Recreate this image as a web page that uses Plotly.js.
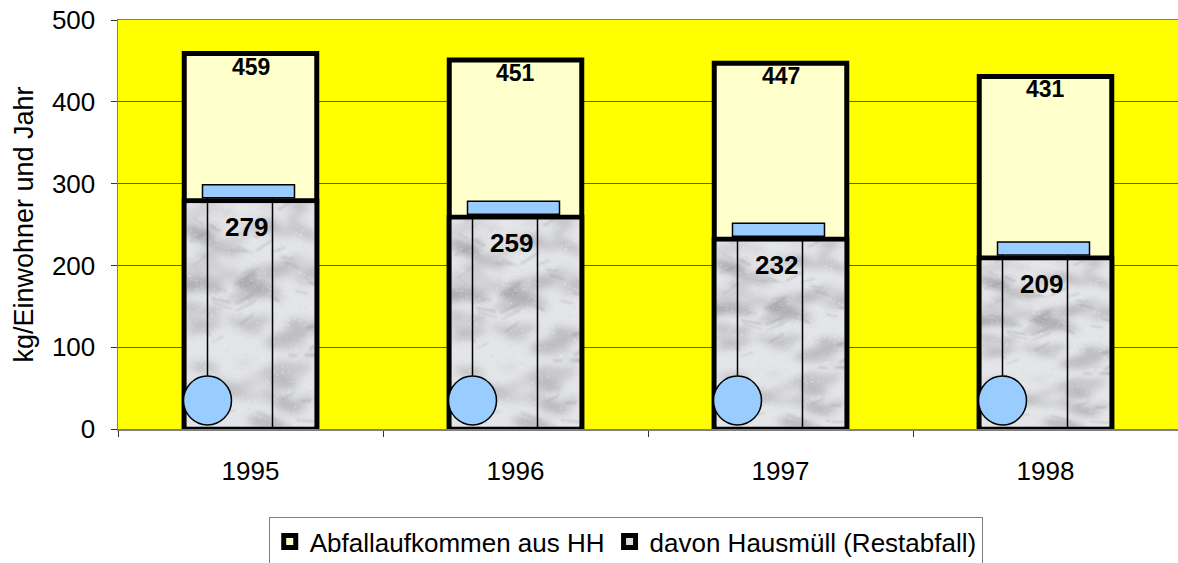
<!DOCTYPE html>
<html>
<head>
<meta charset="utf-8">
<script src="https://cdn.plot.ly/plotly-3.0.1.min.js"></script>
<style>html,body{margin:0;padding:0;background:#fff;}#chart{width:1178px;height:563px;}</style>
</head>
<body>
<div id="chart"></div>
<script>
// ---- data ----
const years = ['1995', '1996', '1997', '1998'];
const abfallaufkommen = [459, 451, 447, 431];
const hausmuell = [279, 259, 232, 209];
const seriesNames = ['Abfallaufkommen aus HH', 'davon Hausmüll (Restabfall)'];
const yTicks = [0, 100, 200, 300, 400, 500];

// ---- marble-like texture (deterministic) ----
function makeTexture() {
  const c = document.createElement('canvas');
  c.width = 140; c.height = 240;
  const g = c.getContext('2d');
  g.fillStyle = '#e4e5e8';
  g.fillRect(0, 0, c.width, c.height);
  const h = (n) => { const s = Math.sin(n * 127.1 + 311.7) * 43758.5453; return s - Math.floor(s); };
  g.filter = 'blur(4px)';
  for (let k = 0; k < 70; k++) {
    const x = h(k) * c.width, y = h(k + 100) * c.height;
    const r = 4 + h(k + 200) * 10;
    const shade = 145 + Math.floor(h(k + 400) * 60);
    g.fillStyle = 'rgba(' + shade + ',' + shade + ',' + (shade + 4) + ',0.5)';
    g.beginPath();
    g.ellipse(x, y, r * 1.8, r * 0.6, -0.5 + h(k + 300) * 1.0, 0, Math.PI * 2);
    g.fill();
  }
  g.filter = 'blur(1px)';
  for (let k = 0; k < 40; k++) {
    const x = h(k + 700) * c.width, y = h(k + 800) * c.height;
    const len = 8 + h(k + 900) * 20, ang = -0.7 + h(k + 950) * 1.4;
    g.strokeStyle = 'rgba(140,140,145,0.35)';
    g.lineWidth = 1 + h(k + 990) * 2;
    g.beginPath();
    g.moveTo(x, y);
    g.lineTo(x + len * Math.cos(ang), y + len * Math.sin(ang));
    g.stroke();
  }
  g.filter = 'none';
  for (let k = 0; k < 900; k++) {
    const x = h(k + 1000) * c.width, y = h(k + 3000) * c.height;
    const s = 205 + Math.floor(h(k + 5000) * 50);
    g.fillStyle = 'rgba(' + s + ',' + s + ',' + s + ',0.5)';
    g.fillRect(x, y, 1.5, 1.5);
  }
  return c.toDataURL('image/png');
}

const tex = makeTexture();
const plotW = 1060, plotH = 409, yMax = 500;
const pxX = 1 / (plotW / years.length);   // category units per px
const pxY = yMax / plotH;                 // data units per px
const barW = 0.5;
const FONT = 'Liberation Sans, Arial, sans-serif';

const traces = [
  {
    type: 'bar', x: years, y: abfallaufkommen, name: seriesNames[0], width: barW,
    marker: { color: '#ffffcc', line: { color: '#000', width: 5 } },
    hoverinfo: 'x+y'
  },
  {
    type: 'bar', x: years, y: hausmuell, name: seriesNames[1], width: barW,
    marker: { color: '#dcdde0', line: { color: '#000', width: 5 } },
    hoverinfo: 'x+y'
  }
];

const images = [], shapes = [], annotations = [];
years.forEach((yr, i) => {
  const v = hausmuell[i];
  const inset = 2.5;
  images.push({
    source: tex, xref: 'x', yref: 'y',
    x: i - barW / 2 + inset * pxX, y: v - inset * pxY,
    sizex: barW - 2 * inset * pxX, sizey: v - 2 * inset * pxY,
    xanchor: 'left', yanchor: 'top', sizing: 'stretch', layer: 'above'
  });
  // bin decoration: lid, handle lines, wheel
  shapes.push({
    type: 'line', xref: 'x', yref: 'y', xsizemode: 'pixel', ysizemode: 'pixel',
    xanchor: i, yanchor: 0, x0: -43, x1: -43, y0: 50, y1: (v / pxY) + 3,
    line: { color: '#000', width: 1.5 }, layer: 'above'
  });
  shapes.push({
    type: 'line', xref: 'x', yref: 'y', xsizemode: 'pixel', ysizemode: 'pixel',
    xanchor: i, yanchor: 0, x0: 22, x1: 22, y0: -3, y1: (v / pxY) + 3,
    line: { color: '#000', width: 1.5 }, layer: 'above'
  });
  shapes.push({
    type: 'rect', xref: 'x', yref: 'y', xsizemode: 'pixel', ysizemode: 'pixel',
    xanchor: i, yanchor: v, x0: -48, x1: 44, y0: 3, y1: 16,
    fillcolor: '#99ccff', line: { color: '#000', width: 1.5 }, layer: 'above'
  });
  shapes.push({
    type: 'circle', xref: 'x', yref: 'y', xsizemode: 'pixel', ysizemode: 'pixel',
    xanchor: i, yanchor: 0, x0: -67, x1: -19, y0: 4, y1: 53,
    fillcolor: '#99ccff', line: { color: '#000', width: 1.5 }, layer: 'above'
  });
  annotations.push({
    x: i, y: abfallaufkommen[i], xref: 'x', yref: 'y', text: '<b>' + abfallaufkommen[i] + '</b>',
    showarrow: false, yanchor: 'top', yshift: 2,
    font: { family: FONT, size: 23, color: '#000' }
  });
  annotations.push({
    x: i, y: v, xref: 'x', yref: 'y', text: '<b>' + v + '</b>',
    showarrow: false, yanchor: 'top', yshift: -9, xshift: -4,
    font: { family: FONT, size: 26, color: '#000' }
  });
});

const layout = {
  width: 1178, height: 563,
  margin: { l: 118, r: 0, t: 20, b: 134, pad: 0, autoexpand: false },
  paper_bgcolor: '#ffffff',
  plot_bgcolor: '#ffff00',
  barmode: 'overlay',
  font: { family: FONT, size: 26, color: '#000' },
  showlegend: true,
  legend: {
    orientation: 'h', x: 0.479, xanchor: 'center',
    yref: 'container', y: 1 - 517 / 563, yanchor: 'top',
    bgcolor: '#ffffff', bordercolor: '#808080', borderwidth: 1,
    font: { size: 26, family: FONT },
    itemwidth: 30, tracegroupgap: 0
  },
  xaxis: {
    type: 'category', range: [-0.5, 3.5], fixedrange: true, automargin: false,
    showline: true, linecolor: '#808080', linewidth: 1.5, mirror: true,
    ticks: 'outside', tickson: 'boundaries', ticklen: 6, tickcolor: '#333', tickwidth: 1,
    ticklabelstandoff: 18,
    tickfont: { size: 26 }, showgrid: false, zeroline: false
  },
  yaxis: {
    range: [0, yMax], tickvals: yTicks, ticktext: yTicks.map(String),
    showline: true, linecolor: '#808080', linewidth: 1.5,
    ticks: 'outside', ticklen: 6, tickcolor: '#333', tickwidth: 1,
    ticklabelstandoff: 10,
    tickfont: { size: 26 },
    showgrid: true, gridcolor: '#666600', gridwidth: 1, zeroline: false,
    title: { text: 'kg/Einwohner und Jahr', font: { size: 27 }, standoff: 10 },
    automargin: false
  },
  images: images, shapes: shapes, annotations: annotations
};

Plotly.newPlot('chart', traces, layout, { displayModeBar: false, staticPlot: true });
</script>
</body>
</html>
